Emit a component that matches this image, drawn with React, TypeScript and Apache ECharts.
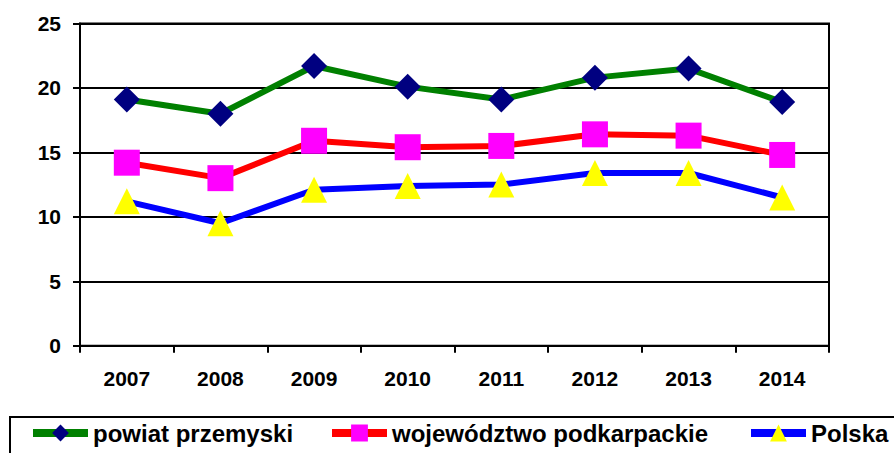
import React, { useEffect, useRef } from "react";
import * as echarts from "echarts";

const years = ["2007", "2008", "2009", "2010", "2011", "2012", "2013", "2014"];
const powiatPrzemyski = [19.1, 18.0, 21.7, 20.1, 19.1, 20.8, 21.5, 18.9];
const wojewodztwoPodkarpackie = [14.2, 13.0, 15.9, 15.4, 15.5, 16.4, 16.3, 14.8];
const polska = [11.2, 9.5, 12.1, 12.4, 12.5, 13.4, 13.4, 11.5];
const seriesNames = ["powiat przemyski", "województwo podkarpackie", "Polska"];

const FONT = "'Liberation Sans', Arial, sans-serif";

export default function App() {
  const ref = useRef<HTMLDivElement>(null);
  useEffect(() => {
    if (!ref.current) return;
    const chart = echarts.init(ref.current, undefined, { renderer: "svg" });
    const legendBase = {
      orient: "horizontal",
      top: 421,
      padding: 0,
      itemWidth: 55,
      itemHeight: 21,
      itemGap: 0,
      lineStyle: { width: 8 },
      textStyle: { fontFamily: FONT, fontWeight: "bold", fontSize: 24, color: "#000", padding: [3, 0, 0, 0] },
    };
    chart.setOption({
      animation: false,
      backgroundColor: "#fff",
      grid: { left: 80, right: 65, top: 23.5, bottom: 107.3, show: true, borderColor: "#000", borderWidth: 2 },
      legend: [
        { ...legendBase, left: 29, data: [seriesNames[0]] },
        { ...legendBase, left: 328, data: [seriesNames[1]] },
        { ...legendBase, left: 747, data: [seriesNames[2]] },
      ],
      graphic: [
        {
          type: "rect",
          shape: { x: 10, y: 417, width: 900, height: 60 },
          style: { fill: "none", stroke: "#000", lineWidth: 2 },
          silent: true,
        },
      ],
      xAxis: {
        type: "category",
        data: years,
        boundaryGap: true,
        axisLine: { lineStyle: { color: "#000", width: 2 } },
        axisTick: { show: true, length: 7, lineStyle: { color: "#000", width: 2 } },
        axisLabel: { fontFamily: FONT, fontWeight: "bold", fontSize: 21, color: "#000", margin: 22 },
      },
      yAxis: {
        type: "value",
        min: 0,
        max: 25,
        interval: 5,
        axisLine: { show: true, lineStyle: { color: "#000", width: 2 } },
        axisTick: { show: true, length: 7, lineStyle: { color: "#000", width: 2 } },
        splitLine: { lineStyle: { color: "#000", width: 2 } },
        axisLabel: { fontFamily: FONT, fontWeight: "bold", fontSize: 21, color: "#000", margin: 19 },
      },
      series: [
        {
          name: seriesNames[0],
          type: "line",
          data: powiatPrzemyski,
          symbol: "diamond",
          symbolSize: 26,
          lineStyle: { color: "#008000", width: 6 },
          itemStyle: { color: "#000080" },
          z: 4,
        },
        {
          name: seriesNames[1],
          type: "line",
          data: wojewodztwoPodkarpackie,
          symbol: "rect",
          symbolSize: 26,
          lineStyle: { color: "#FF0000", width: 6 },
          itemStyle: { color: "#FF00FF" },
          z: 3,
        },
        {
          name: seriesNames[2],
          type: "line",
          data: polska,
          symbol: "triangle",
          symbolSize: 26,
          lineStyle: { color: "#0000FF", width: 6 },
          itemStyle: { color: "#FFFF00" },
          z: 2,
        },
      ],
    });
    return () => chart.dispose();
  }, []);
  return <div ref={ref} style={{ width: 894, height: 453, position: "absolute", left: 0, top: 0 }} />;
}
